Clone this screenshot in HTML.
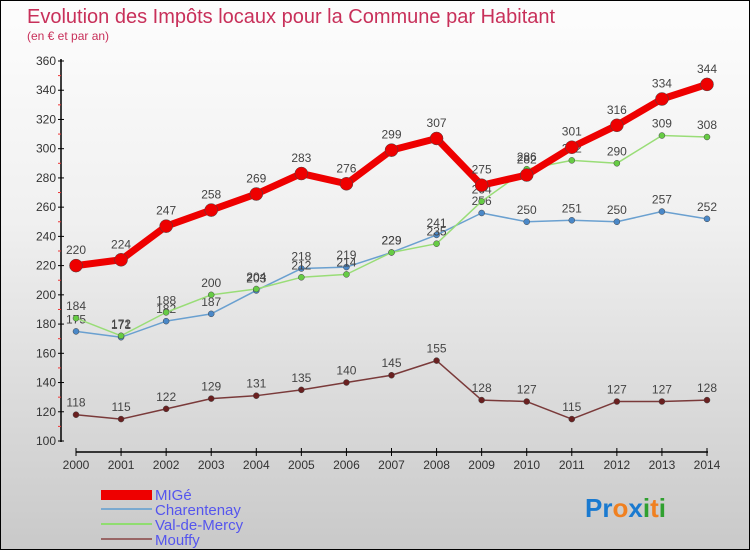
<!DOCTYPE html>
<html><head><meta charset="utf-8"><style>
html,body{margin:0;padding:0}
body{width:750px;height:550px;overflow:hidden;font-family:"Liberation Sans",sans-serif}
#wrap{position:absolute;left:0;top:0;width:748px;height:548px;border:1px solid #000;background:linear-gradient(#fdfdfd,#f0f0f0 40%,#c9c9c9)}
</style></head><body>
<div id="wrap">
<svg id="svg" width="748" height="548" xmlns="http://www.w3.org/2000/svg">
<text x="26" y="22" font-size="20" fill="#c8305a">Evolution des Impôts locaux pour la Commune par Habitant</text>
<text x="26" y="39" font-size="12" fill="#c8305a">(en € et par an)</text>
<g id="axes"></g><g id="series"></g>
<g>
<rect x="100" y="489" width="51" height="10" fill="#e00"/>
<text x="154" y="499" font-size="15" fill="#5555ee">MIGé</text>
<line x1="100" y1="508" x2="151" y2="508" stroke="#7aaad0" stroke-width="2"/>
<text x="154" y="514" font-size="15" fill="#5555ee">Charentenay</text>
<line x1="100" y1="523" x2="151" y2="523" stroke="#90dd70" stroke-width="2"/>
<text x="154" y="529" font-size="15" fill="#5555ee">Val-de-Mercy</text>
<line x1="100" y1="538" x2="151" y2="538" stroke="#996666" stroke-width="2"/>
<text x="154" y="544" font-size="15" fill="#5555ee">Mouffy</text>
</g>
<text x="584" y="516" font-size="26" font-weight="bold"><tspan fill="#1a7ad0">Pr</tspan><tspan fill="#f08020">o</tspan><tspan fill="#1a7ad0">x</tspan><tspan fill="#30a030">i</tspan><tspan fill="#f08020">t</tspan><tspan fill="#30a030">i</tspan></text>
</svg></div>
<script>
const years=[2000,2001,2002,2003,2004,2005,2006,2007,2008,2009,2010,2011,2012,2013,2014];
const yTicks=[100,120,140,160,180,200,220,240,260,280,300,320,340,360];
const mige=[220,224,247,258,269,283,276,299,307,275,282,301,316,334,344];
const charentenay=[175,171,182,187,203,218,219,229,241,256,250,251,250,257,252];
const valDeMercy=[184,172,188,200,204,212,214,229,235,264,286,292,290,309,308];
const mouffy=[118,115,122,129,131,135,140,145,155,128,127,115,127,127,128];
const NS="http://www.w3.org/2000/svg";
function X(i){return 75+i*(631/14);}
function Y(v){return 440-(v-100)*380/260;}
function mk(tag,attrs,parent){const e=document.createElementNS(NS,tag);for(const k in attrs)e.setAttribute(k,attrs[k]);parent.appendChild(e);return e;}
const ax=document.getElementById('axes');
let l=mk('line',{x1:60,y1:58,x2:60,y2:441,stroke:'#000','stroke-width':1.5},ax);


yTicks.forEach(v=>{
 mk('line',{x1:57,y1:Y(v),x2:63,y2:Y(v),stroke:'#000'},ax);
 if(v<360)mk('line',{x1:57,y1:Y(v+10),x2:60,y2:Y(v+10),stroke:'#e33'},ax);
 const t=mk('text',{x:55,y:Y(v)+4,'font-size':12,fill:'#333','text-anchor':'end'},ax);t.textContent=v;
 
 
});
l=mk('line',{x1:75,y1:451,x2:707,y2:451,stroke:'#000','stroke-width':1.5},ax);


years.forEach((y,i)=>{
 mk('line',{x1:X(i),y1:447,x2:X(i),y2:455,stroke:'#000'},ax);
 const t=mk('text',{x:X(i),y:468,'font-size':12,fill:'#333','text-anchor':'middle'},ax);t.textContent=y;
 
 
});
const sg=document.getElementById('series');
function draw(vals,name,color,w,r,fill){
 const g=mk('g',{},sg);
 
 
 const p=mk('polyline',{points:vals.map((v,i)=>X(i)+','+Y(v)).join(' '),fill:'none',stroke:color,'stroke-width':w,'stroke-linejoin':'round'},g);
 
 
 vals.forEach((v,i)=>{
  const c=mk('circle',{cx:X(i),cy:Y(v),r:r,fill:fill,stroke:'#444','stroke-width':0.5},g);
  
  
  const t=mk('text',{x:X(i),y:Y(v)-r-5,'font-size':12,fill:'#444','text-anchor':'middle'},g);t.textContent=v;
  
  
 });
}
draw(mouffy,'mouffy','#7a3a3a',1.5,3,'#6a2020');
draw(charentenay,'charentenay','#6aa0d0',1.5,3,'#4a88c8');
draw(valDeMercy,'val-de-mercy','#99dd77',1.5,3,'#66cc44');
draw(mige,'mige','#ee0000',7,6.5,'#ee0000');
</script>
</body></html>
